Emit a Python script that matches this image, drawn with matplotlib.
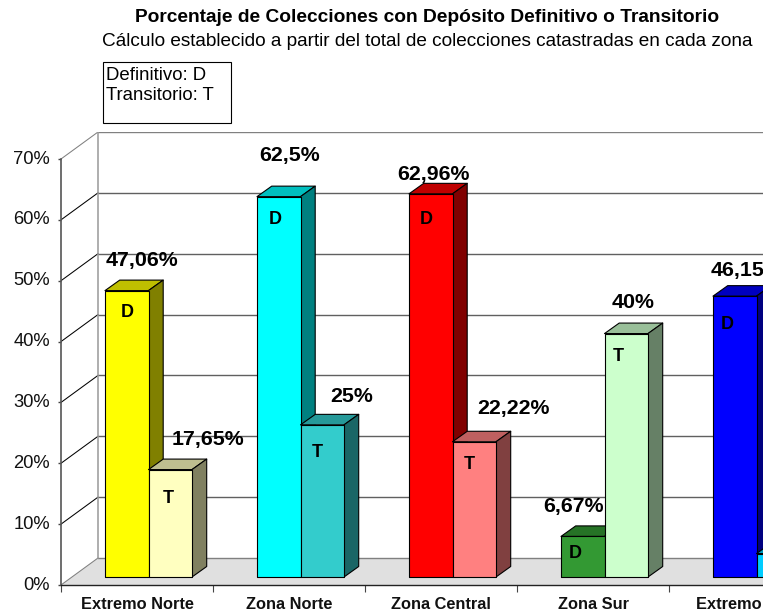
import matplotlib
matplotlib.use("Agg")
import matplotlib.pyplot as plt
from matplotlib.patches import Polygon, Rectangle
from matplotlib.transforms import ScaledTranslation

plt.rcParams['font.family'] = ['Liberation Sans', 'DejaVu Sans']

# ---- data ----
categories = ['Extremo Norte', 'Zona Norte', 'Zona Central', 'Zona Sur', 'Extremo Sur']
definitivo = [47.06, 62.5, 62.96, 6.67, 46.15]
transitorio = [17.65, 25, 22.22, 40, 3.85]
definitivo_labels = ['47,06%', '62,5%', '62,96%', '6,67%', '46,15%']
transitorio_labels = ['17,65%', '25%', '22,22%', '40%', '3,85%']
y_ticks = [0, 10, 20, 30, 40, 50, 60, 70]
y_tick_labels = ['0%', '10%', '20%', '30%', '40%', '50%', '60%', '70%']

# ---- colours: (front, top, side) ----
d_colors = [('#FFFF00', '#BFBF00', '#808000'), ('#00FFFF', '#00BFBF', '#008080'),
            ('#FF0000', '#BF0000', '#800000'), ('#339933', '#267326', '#1A4D1A'),
            ('#0000FF', '#0000BF', '#000080')]
t_colors = [('#FFFFC0', '#BFBF90', '#808060'), ('#33CCCC', '#269999', '#1A6666'),
            ('#FF8080', '#BF6060', '#804040'), ('#CCFFCC', '#99BF99', '#668066'),
            ('#00CCFF', '#0099BF', '#006680')]

# ---- label placement, pixel offsets from bar top centre ----
d_label_off = [(15, 30), (11, 41), (3, 19), (-9, 30), (12, 26)]
t_label_off = [(38, 30), (29, 28), (39, 33), (7, 31), (20, 28)]
d_letter_off = [(0, -22), (-4, -23), (-5, -26), (-8, -17), (-8, -28)]
t_letter_off = [(-2, -29), (-5, -28), (-5, -23), (-8, -23), (-8, -28)]

W, H = 763, 614
fig = plt.figure(figsize=(W / 100, H / 100), dpi=100, facecolor='white')

PX_X = 152.0          # px per category
PX_Y = 426 / 70       # px per percent
X0, Y0 = 61, 585      # pixel position of data origin
BACK_X, BACK_Y = 37, 27
BAR_X, BAR_Y = 44, 8  # bar front offset in the category
BAR_W = 43.5
DEP_X, DEP_Y = 14.7, 10.5
top_val = 70 + BACK_Y / PX_Y

ax = fig.add_axes([X0 / W, (H - Y0) / H, 5 * PX_X / W, top_val * PX_Y / H])
ax.set_xlim(0, 5)
ax.set_ylim(0, top_val)
ax.patch.set_alpha(0)


def dx(p):
    return p / PX_X


def dy(p):
    return p / PX_Y


bx, by = dx(BACK_X), dy(BACK_Y)

# floor
ax.add_patch(Polygon([(0, 0), (bx, by), (5 + bx, by), (5, 0)], closed=True,
                     facecolor='#E0E0E0', edgecolor='none', zorder=1))
# back wall and diagonals
for v in y_ticks:
    edge = '#808080' if v in (0, 70) else '#000000'
    ax.plot([0, bx], [v, v + by], color=edge, lw=0.75, zorder=1.5)
    ax.plot([bx, 5 + bx], [v + by, v + by], color='#808080' if v in (0, 70) else '#606060',
            lw=1.0, zorder=1.5)
ax.plot([bx, bx], [by, 70 + by], color='#999999', lw=1.1, zorder=1.5)


def bar3d(left, val, cols, z):
    x0 = left
    x1 = left + dx(BAR_W)
    y0 = dy(BAR_Y)
    y1 = y0 + val
    ddx, ddy = dx(DEP_X), dy(DEP_Y)
    kw = dict(closed=True, edgecolor='black', lw=0.8, zorder=z, joinstyle='round')
    ax.add_patch(Polygon([(x0, y1), (x1, y1), (x1 + ddx, y1 + ddy), (x0 + ddx, y1 + ddy)],
                         facecolor=cols[1], **kw))
    ax.add_patch(Polygon([(x1, y0), (x1 + ddx, y0 + ddy), (x1 + ddx, y1 + ddy), (x1, y1)],
                         facecolor=cols[2], **kw))
    ax.add_patch(Polygon([(x0, y0), (x1, y0), (x1, y1), (x0, y1)],
                         facecolor=cols[0], **kw))
    return (x0 + x1) / 2, y1


for i in range(len(categories)):
    l_d = i + dx(BAR_X)
    l_t = l_d + dx(BAR_W)
    cx_d, top_d = bar3d(l_d, definitivo[i], d_colors[i], 3 + i * 0.1)
    cx_t, top_t = bar3d(l_t, transitorio[i], t_colors[i], 3.05 + i * 0.1)
    ax.annotate(definitivo_labels[i], (cx_d, top_d), xytext=d_label_off[i], textcoords='offset pixels',
                ha='center', va='center', fontsize=15.4, fontweight='bold', color='black', zorder=6,
                annotation_clip=False)
    ax.annotate('D', (cx_d, top_d), xytext=d_letter_off[i], textcoords='offset pixels',
                ha='center', va='center', fontsize=13, fontweight='bold', color='black', zorder=6)
    if i < 4:
        ax.annotate(transitorio_labels[i], (cx_t, top_t), xytext=t_label_off[i], textcoords='offset pixels',
                    ha='center', va='center', fontsize=15.4, fontweight='bold', color='black', zorder=6)
        ax.annotate('T', (cx_t, top_t), xytext=t_letter_off[i], textcoords='offset pixels',
                    ha='center', va='center', fontsize=13, fontweight='bold', color='black', zorder=6)

# axes
for s in ('top', 'right'):
    ax.spines[s].set_visible(False)
ax.spines['left'].set_bounds(0, 70)
ax.spines['left'].set_color('#555555')
ax.spines['left'].set_linewidth(1.2)
ax.spines['bottom'].set_color('#222222')
ax.spines['bottom'].set_linewidth(1.0)
ax.spines['left'].set_zorder(7)
ax.spines['bottom'].set_zorder(7)
ax.set_yticks(y_ticks)
ax.set_yticklabels(y_tick_labels, fontsize=13.2, color='#111111')
ax.tick_params(axis='y', length=2, width=1, color='#444444', pad=6)
shift = ScaledTranslation(0, 2 / 100, fig.dpi_scale_trans)
for lab in ax.get_yticklabels():
    lab.set_transform(lab.get_transform() + shift)
ax.set_xticks(range(6))
ax.set_xticklabels([])
ax.tick_params(axis='x', which='major', length=5, width=0.8, color='#444444')
ax.set_xticks([i + 0.5 for i in range(5)], minor=True)
ax.set_xticklabels(categories, minor=True, fontsize=11.8, fontweight='bold', color='#111111')
ax.tick_params(axis='x', which='minor', length=0, pad=8.5)

# title
fig.text(427 / W, 1 - 18 / H, 'Porcentaje de Colecciones con Depósito Definitivo o Transitorio',
         ha='center', va='center', fontsize=13.75, fontweight='bold', color='black')
fig.text(427 / W, 1 - 41 / H, 'Cálculo establecido a partir del total de colecciones catastradas en cada zona',
         ha='center', va='center', fontsize=13.7, color='black')

# note box
fig.add_artist(Rectangle((102.5 / W, 1 - 122.5 / H), 128.5 / W, 60 / H, transform=fig.transFigure,
                         facecolor='white', edgecolor='black', lw=0.8))
fig.text(106 / W, 1 - 76 / H, 'Definitivo: D', ha='left', va='center', fontsize=13.4, color='black')
fig.text(106 / W, 1 - 96 / H, 'Transitorio: T', ha='left', va='center', fontsize=13.4, color='black')

fig.savefig('out.png', dpi=100)
